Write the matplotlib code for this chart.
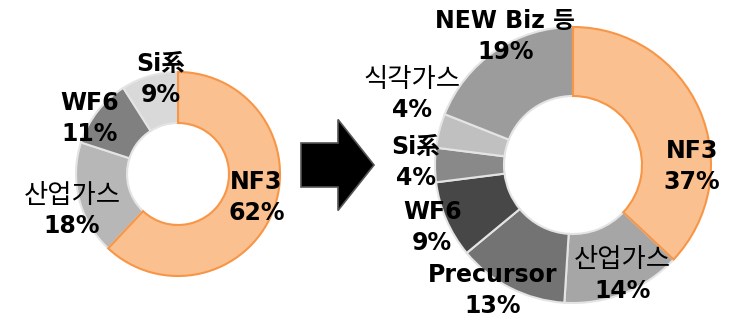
import matplotlib.pyplot as plt
import matplotlib.patches as mpatches

plt.rcParams['font.family'] = ['DejaVu Sans', 'Noto Sans CJK KR']

# before
left_labels = ['NF3', '산업가스', 'WF6', 'Si系']
left_values = [62, 18, 11, 9]
left_colors = ['#FAC090', '#B7B7B7', '#808080', '#D9D9D9']
left_pos = [(0.77, -0.23), (-1.04, -0.36), (-0.87, 0.54), (-0.17, 0.93)]

# after
right_labels = ['NF3', '산업가스', 'Precursor', 'WF6', 'Si系', '식각가스', 'NEW Biz 등']
right_values = [37, 14, 13, 9, 4, 4, 19]
right_colors = ['#FAC090', '#A6A6A6', '#737373', '#474747', '#898989', '#C0C0C0', '#9C9C9C']
right_pos = [(0.86, -0.01), (0.36, -0.80), (-0.58, -0.91), (-1.02, -0.45),
             (-1.14, 0.02), (-1.17, 0.51), (-0.49, 0.93)]

W, H = 739, 317
fig = plt.figure(figsize=(W / 100, H / 100), dpi=100)


def donut(cx, cy, r, labels, values, colors, pos):
    ax = fig.add_axes([(cx - r) / W, (H - cy - r) / H, 2 * r / W, 2 * r / H])
    wedges, _ = ax.pie(values, colors=colors, startangle=90, counterclock=False,
                       radius=1, wedgeprops=dict(width=0.5, edgecolor='#E4E4E4', linewidth=1.5))
    wedges[0].set_edgecolor('#F79646')
    wedges[0].set_zorder(5)
    for lab, v, (x, y) in zip(labels, values, pos):
        if all(ord(c) >= 0xAC00 for c in lab):
            kw = dict(fontsize=19, family='Noto Sans CJK KR', fontweight='medium')
        else:
            kw = dict(fontsize=17, fontweight='bold')
        ax.annotate(lab, (x, y), xytext=(0, 11.2), textcoords='offset points',
                    ha='center', va='center', zorder=10, annotation_clip=False, **kw)
        ax.annotate(f'{v}%', (x, y), xytext=(0, -11.2), textcoords='offset points',
                    ha='center', va='center', fontsize=17, fontweight='bold',
                    zorder=10, annotation_clip=False)
    ax.set_xlim(-1, 1)
    ax.set_ylim(-1, 1)
    ax.axis('off')
    return ax


donut(178, 174, 102, left_labels, left_values, left_colors, left_pos)
donut(573, 165, 138, right_labels, right_values, right_colors, right_pos)

# arrow
arrow = mpatches.FancyArrow(301 / W, (H - 165) / H, 73 / W, 0, width=44 / H,
                            head_width=91 / H, head_length=36 / W,
                            length_includes_head=True, transform=fig.transFigure,
                            facecolor='black', edgecolor='#555555', linewidth=1.2)
fig.patches.append(arrow)

fig.savefig('out.png', dpi=100)
